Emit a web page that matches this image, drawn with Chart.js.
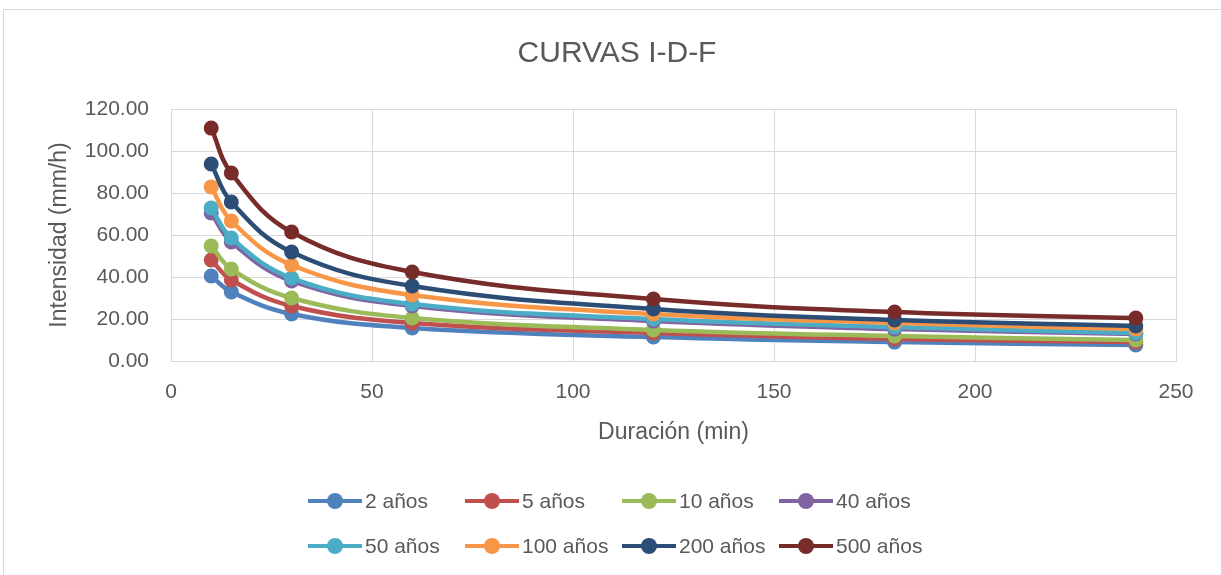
<!DOCTYPE html>
<html>
<head>
<meta charset="utf-8">
<script src="https://cdn.jsdelivr.net/npm/chart.js@4"></script>
<style>
  html, body { margin: 0; padding: 0; background: #fff; }
  #wrap { position: relative; width: 1221px; height: 575px; overflow: hidden; font-family: "Liberation Sans", Arial, sans-serif; }
  #frame { position: absolute; left: 3px; top: 9px; width: 1260px; height: 620px; border: 1px solid #d9d9d9; box-sizing: border-box; }
  #idf { position: absolute; left: 0; top: 0; }
  .leg { position: absolute; height: 24px; display: flex; align-items: center; color: #595959; font-size: 21px; white-space: nowrap; }
  .leg .ln { position: relative; width: 54px; height: 4px; margin-right: 3px; }
  .leg .dot { position: absolute; left: 19px; top: -6px; width: 16px; height: 16px; border-radius: 50%; }
</style>
</head>
<body>
<div id="wrap">
  <div id="frame"></div>
  <canvas id="idf" width="1221" height="575"></canvas>
</div>
<script>
// Duraciones (min)
const duraciones = [10, 15, 30, 60, 120, 180, 240];

// Intensidades (mm/h) por periodo de retorno
const serie2 = [40.5, 32.9, 22.4, 15.7, 11.4, 9.0, 7.6];
const serie5 = [48.1, 38.6, 26.2, 18.1, 13.3, 10.5, 9.0];
const serie10 = [54.8, 43.8, 30.0, 20.5, 14.8, 11.9, 10.0];
const serie40 = [70.5, 56.7, 38.1, 26.2, 19.0, 15.2, 12.9];
const serie50 = [72.9, 58.6, 39.5, 27.1, 20.0, 16.2, 13.3];
const serie100 = [82.9, 66.7, 45.7, 31.4, 22.4, 18.1, 15.2];
const serie200 = [93.8, 75.7, 51.9, 35.7, 24.8, 19.5, 16.7];
const serie500 = [110.9, 89.5, 61.4, 42.4, 29.5, 23.3, 20.5];

const nombres = ["2 años", "5 años", "10 años", "40 años", "50 años", "100 años", "200 años", "500 años"];
const colores = ["#4F81BD", "#C0504D", "#9BBB59", "#8064A2", "#4BACC6", "#F79646", "#2C4D75", "#772C2A"];
const series = [serie2, serie5, serie10, serie40, serie50, serie100, serie200, serie500];

const datasets = series.map((vals, i) => ({
    label: nombres[i],
    data: vals.map((v, j) => ({ x: duraciones[j], y: v })),
    borderColor: colores[i],
    backgroundColor: colores[i],
    borderWidth: 4.5,
    pointRadius: 7.5,
    pointHoverRadius: 7.5,
    pointBorderWidth: 0,
    pointBackgroundColor: colores[i],
    tension: 0.4,
    order: series.length - i   // las últimas series se dibujan encima
}));

const gris = "#595959";
const rejilla = "#d9d9d9";

new Chart(document.getElementById("idf").getContext("2d"), {
    type: "line",
    data: { datasets },
    options: {
        responsive: false,
        animation: false,
        layout: { padding: { left: 13, right: 0, top: 0, bottom: 114 } },
        plugins: {
            legend: { display: false },
            tooltip: { enabled: false },
            title: {
                display: true,
                text: "CURVAS I-D-F",
                color: gris,
                font: { family: "Liberation Sans", size: 30, weight: "normal" },
                padding: { top: 36, bottom: 37 }
            }
        },
        scales: {
            x: {
                type: "linear",
                min: 0,
                max: 250,
                ticks: { stepSize: 50, color: gris, padding: 19, font: { family: "Liberation Sans", size: 21 } },
                grid: { color: rejilla, drawTicks: false },
                border: { color: rejilla },
                title: {
                    display: true,
                    text: "Duración (min)",
                    color: gris,
                    font: { family: "Liberation Sans", size: 23 },
                    padding: { top: 4, bottom: 15 }
                },
                afterFit: s => { s.height = 100; }
            },
            y: {
                min: 0,
                max: 120,
                ticks: {
                    stepSize: 20,
                    color: gris,
                    padding: 22,
                    font: { family: "Liberation Sans", size: 21 },
                    callback: v => v.toFixed(2)
                },
                grid: { color: rejilla, drawTicks: false },
                border: { color: rejilla },
                title: {
                    display: true,
                    text: "Intensidad (mm/h)",
                    color: gris,
                    font: { family: "Liberation Sans", size: 23 },
                    padding: { top: 33, bottom: 0 }
                },
                afterFit: s => { s.width = 158; }
            },
            // eje vacío que solo reserva el margen derecho
            margen: {
                position: "right",
                display: true,
                grid: { display: false },
                border: { display: false },
                ticks: { display: false },
                afterFit: s => { s.width = 45; }
            }
        }
    }
});

// Leyenda en dos filas de cuatro, como en Excel
const wrap = document.getElementById("wrap");
nombres.forEach((n, i) => {
    const item = document.createElement("div");
    item.className = "leg";
    item.style.left = (308 + (i % 4) * 157) + "px";
    item.style.top = (i < 4 ? 489 : 534) + "px";
    const ln = document.createElement("span");
    ln.className = "ln";
    ln.style.background = colores[i];
    const dot = document.createElement("span");
    dot.className = "dot";
    dot.style.background = colores[i];
    ln.appendChild(dot);
    item.appendChild(ln);
    item.appendChild(document.createTextNode(n));
    wrap.appendChild(item);
});
</script>
</body>
</html>
